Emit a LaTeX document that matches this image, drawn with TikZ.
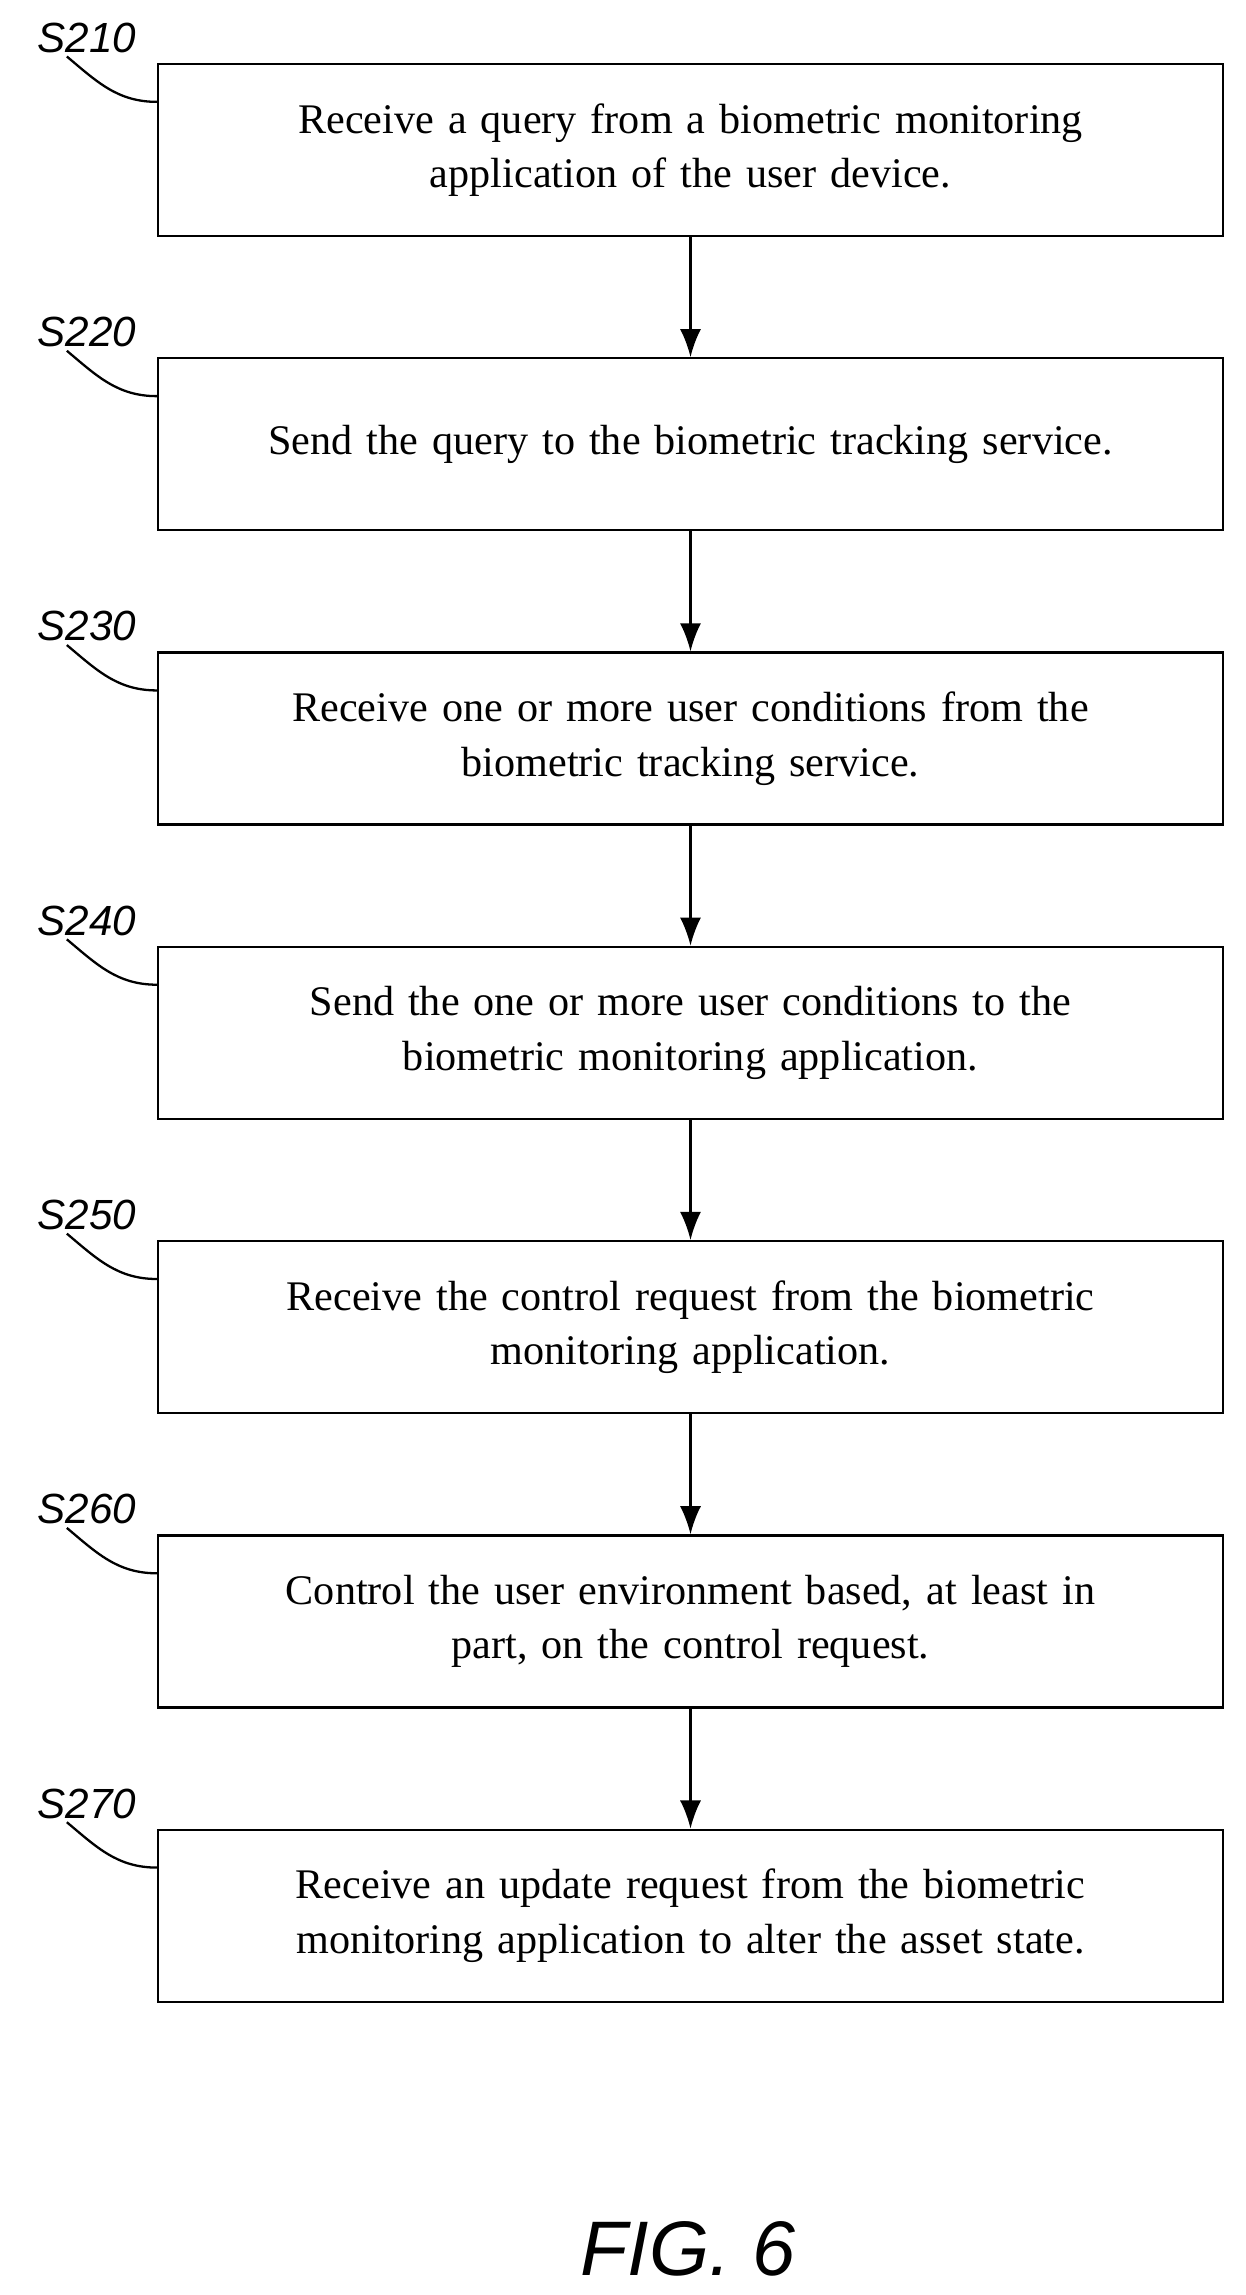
\documentclass[tikz,border=0pt]{standalone}
\usepackage{fontspec}
\setmainfont{Liberation Serif}
\newfontfamily\labelfont{Liberation Sans}
\usetikzlibrary{calc}
\usetikzlibrary{positioning}
\usetikzlibrary{arrows.meta}
\tikzset{
  stepbox/.style={draw, line width=1.3pt, minimum width=21.3cm, minimum height=3.44cm, text width=19.6cm, align=center, font=\fontsize{24}{31}\selectfont},
  steplabel/.style={font=\labelfont\itshape\fontsize{24}{28}\selectfont},
  flow/.style={line width=1.3pt, -{Latex[length=16pt,width=12pt]}},
  tie/.style={line width=1.3pt}
}
\begin{document}
\begin{tikzpicture}
\useasboundingbox (0,0) rectangle (24.9,-45.9);

\node[stepbox] (s210) at (13.81,-3.0) {Receive a query from a biometric monitoring\\application of the user device.};
\node[stepbox, below=2.4cm of s210] (s220) {Send the query to the biometric tracking service.};
\node[stepbox, below=2.4cm of s220] (s230) {Receive one or more user conditions from the\\biometric tracking service.};
\node[stepbox, below=2.4cm of s230] (s240) {Send the one or more user conditions to the\\biometric monitoring application.};
\node[stepbox, below=2.4cm of s240] (s250) {Receive the control request from the biometric\\monitoring application.};
\node[stepbox, below=2.4cm of s250] (s260) {Control the user environment based, at least in\\part, on the control request.};
\node[stepbox, below=2.4cm of s260] (s270) {Receive an update request from the biometric\\monitoring application to alter the asset state.};

% step numbers with their ties
\foreach \s in {210,220,230,240,250,260,270} {
  \node[steplabel] (l\s) at ($(s\s.north west)+(-1.4,0.5)$) {S\s};
  \coordinate (c\s) at ($(s\s.north west)+(0,-0.78)$);
  \draw[tie] ($(l\s.south)+(-0.4,0.05)$) to[out=-40,in=180] (c\s);
}

\draw[flow] (s210) -- (s220);
\draw[flow] (s220) -- (s230);
\draw[flow] (s230) -- (s240);
\draw[flow] (s240) -- (s250);
\draw[flow] (s250) -- (s260);
\draw[flow] (s260) -- (s270);

\node[font=\labelfont\itshape\fontsize{44}{50}\selectfont] (fig) at (13.76,-44.98) {FIG. 6};

\end{tikzpicture}
\end{document}
